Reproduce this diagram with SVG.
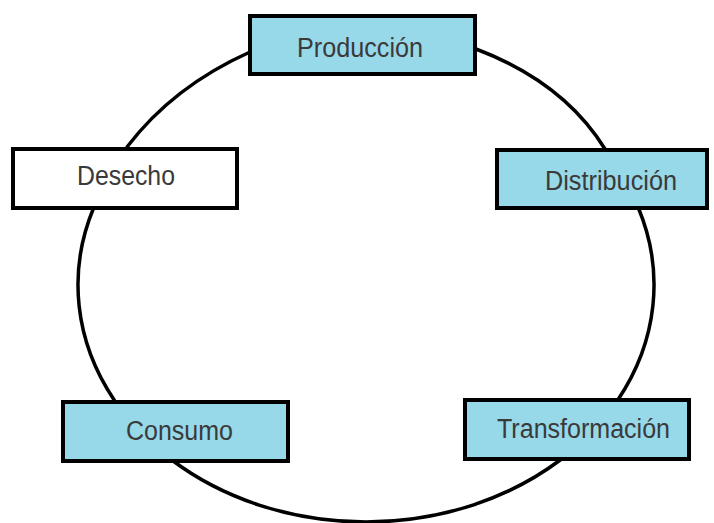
<svg xmlns="http://www.w3.org/2000/svg" width="714" height="523" viewBox="0 0 714 523">
  <style>
    .edge { fill: none; stroke: #000; stroke-width: 3.5; stroke-linecap: round; }
    .box { stroke: #000; stroke-width: 4; }
    .blue { fill: #97d8e9; }
    .white { fill: #ffffff; }
    .label { font-family: "Liberation Sans", Arial, sans-serif; font-size: 27px; fill: #3a3a3a; }
  </style>
  <rect width="714" height="523" fill="#ffffff"/>

  <!-- cycle links between the stages; lower links follow one ellipse (c 366,285 r 288x237) -->
  <g id="connectors">
    <path class="edge" d="M127,147 Q173,86.5 250,52"/>
    <path class="edge" d="M476,49 Q563.5,82 605,149"/>
    <path class="edge" d="M638.4,208 A288,237 0 0 1 617.8,400"/>
    <path class="edge" d="M560.2,460 A288,237 0 0 1 171.8,460"/>
    <path class="edge" d="M114.2,400 A288,237 0 0 1 93.6,208"/>
  </g>

  <g id="produccion">
    <rect class="box blue" x="250" y="16" width="225" height="58"/>
    <text class="label" x="297" y="57" textLength="126" lengthAdjust="spacingAndGlyphs">Producción</text>
  </g>

  <g id="distribucion">
    <rect class="box blue" x="497" y="150" width="210" height="58"/>
    <text class="label" x="545" y="190" textLength="132" lengthAdjust="spacingAndGlyphs">Distribución</text>
  </g>

  <g id="transformacion">
    <rect class="box blue" x="465" y="400" width="224" height="59"/>
    <text class="label" x="497" y="438" textLength="173" lengthAdjust="spacingAndGlyphs">Transformación</text>
  </g>

  <g id="consumo">
    <rect class="box blue" x="63" y="402" width="225" height="59"/>
    <text class="label" x="126" y="440" textLength="107" lengthAdjust="spacingAndGlyphs">Consumo</text>
  </g>

  <g id="desecho">
    <rect class="box white" x="13" y="149" width="224" height="59"/>
    <text class="label" x="77" y="185" textLength="98" lengthAdjust="spacingAndGlyphs">Desecho</text>
  </g>
</svg>
